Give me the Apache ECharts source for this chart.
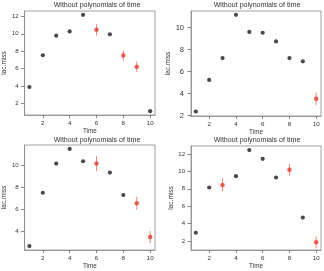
<!DOCTYPE html>
<html><head><meta charset="utf-8">
<script src="https://cdn.jsdelivr.net/npm/echarts@6/dist/echarts.min.js"></script>
<style>html,body{margin:0;padding:0;background:#fff}#c{width:324px;height:271px}</style>
</head><body><div id="c"></div>
<script>
const times = [1, 2, 3, 4, 5, 6, 7, 8, 9, 10];
const xTicks = [2, 4, 6, 8, 10];
const titleText = 'Without polynomials of time';
const xName = 'Time';
const yName = 'lac.miss';

// panel values (lac.miss per time); errors only on red (imputed) points
const values1 = [3.87, 7.53, 9.79, 10.28, 12.19, 10.47, 9.94, 7.5, 6.2, 1.08];
const errors1 = [null, null, null, null, null, 0.67, null, 0.57, 0.61, null];
const yTicks1 = [2, 4, 6, 8, 10, 12];

const values2 = [2.36, 5.23, 7.22, 11.15, 9.6, 9.52, 8.73, 7.22, 6.92, 3.51];
const errors2 = [null, null, null, null, null, null, null, null, null, 0.57];
const yTicks2 = [2, 4, 6, 8, 10];

const values3 = [2.71, 7.5, 10.12, 11.44, 10.33, 10.12, 9.31, 7.3, 6.55, 3.52];
const errors3 = [null, null, null, null, null, 0.68, null, null, 0.59, 0.54];
const yTicks3 = [4, 6, 8, 10];

const values4 = [2.95, 8.15, 8.45, 9.45, 12.45, 11.45, 9.3, 10.2, 4.7, 1.85];
const errors4 = [null, null, 0.73, null, null, null, null, 0.67, null, 0.67];
const yTicks4 = [2, 4, 6, 8, 10, 12];

const panels = [
  {values: values1, errors: errors1, yTicks: yTicks1, yMin: 0.64, yMax: 12.63, grid: {left: 24, top: 11, width: 131, height: 104}, yFont: 6, titleX: 97, titleY: 5},
  {values: values2, errors: errors2, yTicks: yTicks2, yMin: 1.95, yMax: 11.5, grid: {left: 191, top: 11, width: 130, height: 105}, yFont: 7.5, titleX: 257, titleY: 5},
  {values: values3, errors: errors3, yTicks: yTicks3, yMin: 2.36, yMax: 11.79, grid: {left: 24, top: 145, width: 131, height: 105}, yFont: 6, titleX: 97, titleY: 140.5},
  {values: values4, errors: errors4, yTicks: yTicks4, yMin: 0.97, yMax: 12.92, grid: {left: 191, top: 146, width: 130, height: 104}, yFont: 6, titleX: 257, titleY: 140.5}
];

const FONT = 'Liberation Sans, Arial, sans-serif';
const grids = [], xAxes = [], yAxes = [], series = [], graphics = [];
panels.forEach((p, i) => {
  grids.push(Object.assign({show: true, borderColor: '#8a8a8a', borderWidth: 0.8, backgroundColor: 'transparent'}, p.grid));
  xAxes.push({
    gridIndex: i, type: 'value', min: 0.64, max: 10.36,
    name: xName, nameLocation: 'middle', nameGap: 13,
    nameTextStyle: {fontFamily: FONT, fontSize: 6.3, color: '#333'},
    axisLine: {show: true, lineStyle: {color: '#8a8a8a', width: 0.8}},
    axisTick: {show: true, inside: false, length: 3, customValues: xTicks, lineStyle: {color: '#666', width: 0.8}},
    axisLabel: {show: true, customValues: xTicks, margin: 5, fontFamily: FONT, fontSize: 6.2, color: '#333'},
    splitLine: {show: false}
  });
  yAxes.push({
    gridIndex: i, type: 'value', min: p.yMin, max: p.yMax,
    name: yName, nameLocation: 'middle', nameGap: i === 1 ? 16 : 15, nameRotate: 90,
    nameTextStyle: {fontFamily: FONT, fontSize: 6.5, color: '#333'},
    axisLine: {show: true, lineStyle: {color: '#8a8a8a', width: 0.8}},
    axisTick: {show: true, inside: false, length: 3.5, customValues: p.yTicks, lineStyle: {color: '#666', width: 0.8}},
    axisLabel: {show: true, customValues: p.yTicks, margin: i === 1 ? 7 : 6, fontFamily: FONT, fontSize: p.yFont, color: '#333', showMinLabel: true, showMaxLabel: true},
    splitLine: {show: false}
  });
  const black = [], red = [], bars = [];
  times.forEach((t, k) => {
    const v = p.values[k], e = p.errors[k];
    if (e == null) black.push([t, v]);
    else { red.push([t, v]); bars.push([t, v - e, v + e]); }
  });
  series.push({
    type: 'custom', xAxisIndex: i, yAxisIndex: i, data: bars, silent: true, z: 2,
    renderItem: function (params, api) {
      const a = api.coord([api.value(0), api.value(1)]);
      const b = api.coord([api.value(0), api.value(2)]);
      return {type: 'line', shape: {x1: a[0], y1: a[1], x2: b[0], y2: b[1]}, style: {stroke: 'rgba(236,70,60,0.65)', lineWidth: 1}};
    }
  });
  series.push({type: 'scatter', xAxisIndex: i, yAxisIndex: i, data: black, symbol: 'circle', symbolSize: 4.2, itemStyle: {color: '#1c1c1c'}, z: 3});
  series.push({type: 'scatter', xAxisIndex: i, yAxisIndex: i, data: red, symbol: 'circle', symbolSize: 4.5, itemStyle: {color: '#e8392e'}, z: 4});
  graphics.push({type: 'text', x: p.titleX, y: p.titleY, style: {text: titleText, fontFamily: FONT, fontSize: 7.1, fill: '#333', textAlign: 'center', textVerticalAlign: 'middle'}});
});

const chart = echarts.init(document.getElementById('c'), null, {renderer: 'canvas'});
chart.setOption({
  animation: false,
  backgroundColor: '#fff',
  grid: grids, xAxis: xAxes, yAxis: yAxes, series: series, graphic: graphics
});
</script></body></html>
